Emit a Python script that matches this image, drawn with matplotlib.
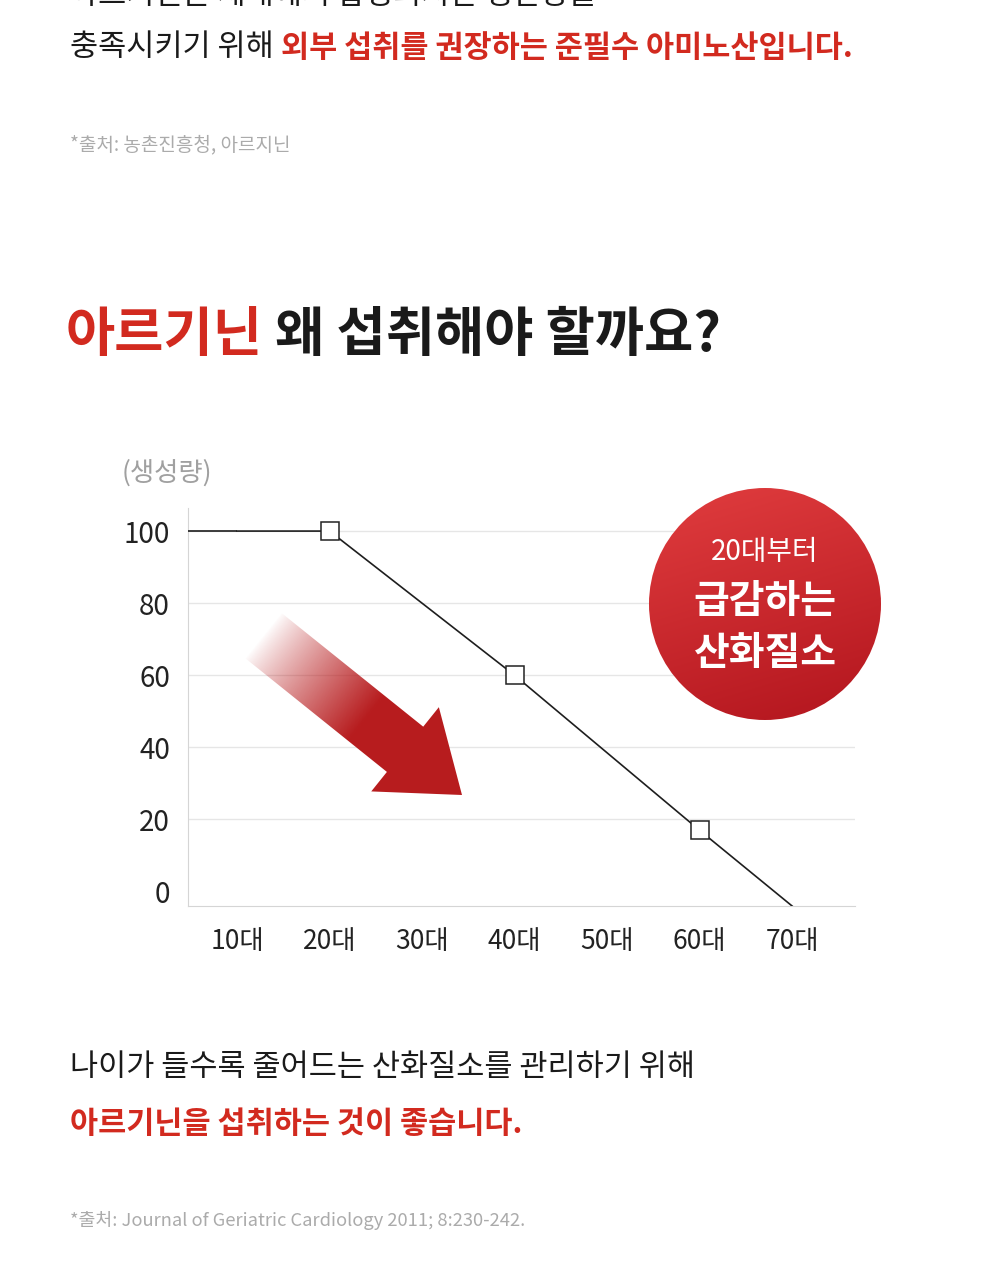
import numpy as np
import matplotlib
matplotlib.use('Agg')
import matplotlib.pyplot as plt
from matplotlib.patches import Polygon, Circle

FONT = ['Noto Sans CJK KR', 'DejaVu Sans']
plt.rcParams['font.family'] = FONT

# data
ages = [10, 20, 40, 60, 70]
production = [100, 100, 60, 17, -4]
marker_ages = [20, 40, 60]
marker_values = [100, 60, 17]
x_ticks = [10, 20, 30, 40, 50, 60, 70]
x_labels = ['10대', '20대', '30대', '40대', '50대', '60대', '70대']
y_ticks = [0, 20, 40, 60, 80, 100]
y_label = '(생성량)'

intro_1 = '아르기닌은 체내에서 합성되지만 생산량을'
intro_2 = [('충족시키기 위해 ', 'black', 'normal'),
           ('외부 섭취를 권장하는 준필수 아미노산입니다.', 'red', 'bold')]
source_1 = '*출처: 농촌진흥청, 아르지닌'
title = [('아르기닌', 'red', 'bold'), (' 왜 섭취해야 할까요?', 'black', 'bold')]
badge = ['20대부터', '급감하는', '산화질소']
outro_1 = '나이가 들수록 줄어드는 산화질소를 관리하기 위해'
outro_2 = '아르기닌을 섭취하는 것이 좋습니다.'
source_2 = '*출처: Journal of Geriatric Cardiology 2011; 8:230-242.'

RED = '#d22a1f'
INK = '#1a1a1a'
GREY = '#ababab'
COLORS = {'red': RED, 'black': INK}

W, H = 1000, 1280
fig = plt.figure(figsize=(W / 100, H / 100), dpi=100)


def px(l, t, r, b):
    return [l / W, 1 - b / H, (r - l) / W, (b - t) / H]


# chart
ax = fig.add_axes(px(188, 508, 855, 906))
XMIN, XMAX = 4.7, 76.8
ax.set_xlim(XMIN, XMAX)
ax.set_ylim(-4, 106.4)
ax.plot(ages, production, color='#1e1e1e', lw=1.2, zorder=3)
ax.hlines(production[0], XMIN, ages[0], color='#1e1e1e', lw=1.2, zorder=3)
ax.plot(marker_ages, marker_values, ls='none', marker='s', ms=13,
        mfc='white', mec='#222222', mew=1.1, zorder=4, clip_on=False)
ax.set_yticks(y_ticks)
ax.set_xticks(x_ticks, x_labels)
ax.grid(axis='y', color='#e6e6e6', lw=1)
ax.yaxis.get_gridlines()[0].set_visible(False)
ax.tick_params(axis='y', length=0, labelsize=20, colors='#222222', pad=13)
ax.tick_params(axis='x', length=0, labelsize=19, colors='#222222', pad=16)
for lbl in ax.get_xticklabels() + ax.get_yticklabels():
    lbl.set_fontweight('light')
for s in ['top', 'right']:
    ax.spines[s].set_visible(False)
for s in ['left', 'bottom']:
    ax.spines[s].set_color('#d5d5d5')
ax.set_axisbelow(True)

# overlay in pixel coords
ov = fig.add_axes([0, 0, 1, 1])
ov.axis('off')


def chain(x, y, pieces, size):
    prev = None
    for s, c, w in pieces:
        if prev is None:
            prev = ov.text(x, y, s, color=COLORS[c], fontweight=w, fontsize=size,
                           va='center', ha='left')
        else:
            prev = ov.annotate(s, xy=(1, 0), xycoords=prev, color=COLORS[c],
                               fontweight=w, fontsize=size, va='bottom', ha='left')


ov.text(70, -4, intro_1, color=INK, fontsize=22, va='center')
chain(70, 48, intro_2, 22)
ov.text(70, 145, source_1, color=GREY, fontsize=13.7, va='center')
chain(66, 335, title, 38.5)
ov.text(167, 473, y_label, color='#a0a0a0', fontsize=19, va='center', ha='center',
        fontweight='light')
ov.text(70, 1068, outro_1, color=INK, fontsize=22, va='center')
ov.text(70, 1124, outro_2, color=RED, fontsize=22, va='center', fontweight='bold')
ov.text(70, 1220, source_2, color=GREY, fontsize=13.2, va='center')

# gradient arrow
tip = np.array([462.0, 795.0])
d = np.array([0.78, 0.626])
n = np.array([-d[1], d[0]])
base = tip - 73 * d
tail = base - 190 * d
arrow_pts = [tail - 29 * n, base - 29 * n, base - 54 * n, tip,
             base + 54 * n, base + 29 * n, tail + 29 * n]
arrow = Polygon(arrow_pts, closed=True, transform=ov.transData,
                facecolor='none', edgecolor='none')
ov.add_patch(arrow)
gx0, gx1, gy0, gy1 = 220, 470, 595, 805
gx, gy = np.meshgrid(np.linspace(gx0, gx1, 300), np.linspace(gy0, gy1, 260))
t = ((gx - tail[0]) * d[0] + (gy - tail[1]) * d[1]) / np.linalg.norm(tip - tail)
a = np.clip((t - 0.03) / 0.5, 0, 1) ** 0.85
rgba = np.zeros(gx.shape + (4,))
rgba[..., 0] = 0.72
rgba[..., 1] = 0.11
rgba[..., 2] = 0.12
rgba[..., 3] = a
im = ov.imshow(rgba, extent=(gx0, gx1, gy1, gy0), origin='upper',
               aspect='auto', interpolation='bilinear', zorder=2)
im.set_clip_path(arrow)

# red badge
cx, cy, r = 765, 604, 116
circ = Circle((cx, cy), r, transform=ov.transData, facecolor='none', edgecolor='none')
ov.add_patch(circ)
bx, by = np.meshgrid(np.linspace(-1, 1, 200), np.linspace(-1, 1, 200))
v = np.clip(0.5 + 0.5 * by + 0.15 * bx, 0, 1)
top_c = np.array([0.86, 0.22, 0.23])
bot_c = np.array([0.72, 0.10, 0.13])
grad = top_c[None, None, :] * (1 - v[..., None]) + bot_c[None, None, :] * v[..., None]
im2 = ov.imshow(grad, extent=(cx - r, cx + r, cy + r, cy - r), origin='upper',
                aspect='auto', interpolation='bilinear', zorder=3)
im2.set_clip_path(circ)
ov.text(cx, 552, badge[0], color='white', fontsize=20, ha='center', va='center',
        fontweight='light', zorder=4)
ov.text(cx, 602, badge[1], color='white', fontsize=28, ha='center', va='center',
        fontweight='bold', zorder=4)
ov.text(cx, 653, badge[2], color='white', fontsize=28, ha='center', va='center',
        fontweight='bold', zorder=4)

ov.set_xlim(0, W)
ov.set_ylim(H, 0)

fig.savefig('out.png', dpi=100, facecolor='white')
